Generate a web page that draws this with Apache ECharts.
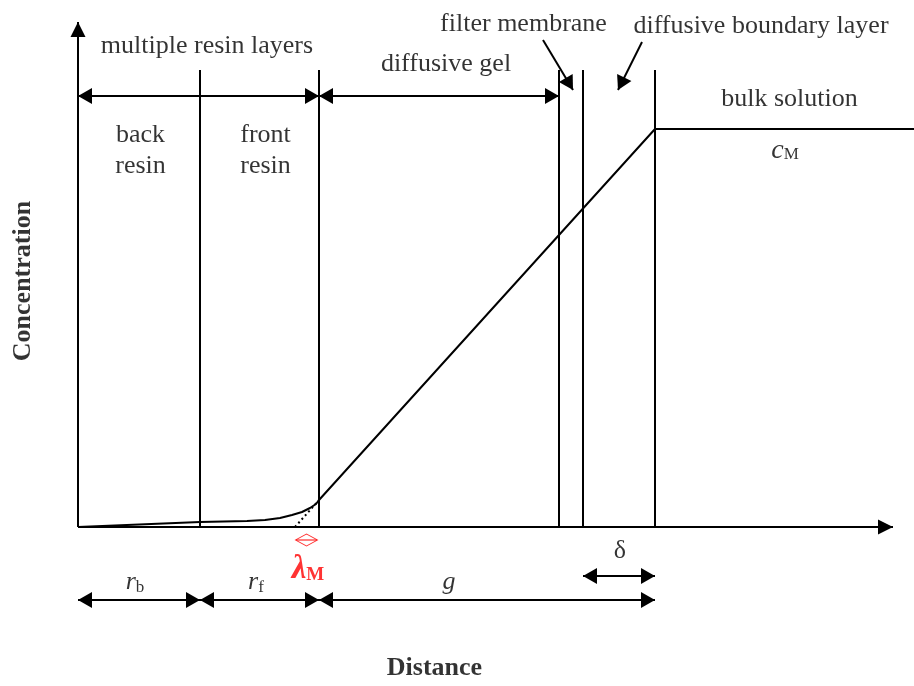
<!DOCTYPE html>
<html><head><meta charset="utf-8">
<script src="https://cdn.jsdelivr.net/npm/echarts@6/dist/echarts.min.js"></script>
<style>html,body{margin:0;padding:0;background:#fff}#c{width:914px;height:686px}</style>
</head><body><div id="c"></div>
<script>
// Drawing units: distance measured from the origin (x), concentration above the distance axis (y)
const xExtent = [-78, 836];
const yExtent = [-159, 527];
const axisEnds = [815, 505];                       // distance axis end, concentration axis end
const boundaries = [122, 241, 481, 505, 577];      // back|front, resin|gel, gel|membrane, membrane|DBL, DBL|bulk
const layerTop = 457;
const profileDistance = [0, 122, 169, 187, 202, 214, 224, 232, 238, 241, 577, 836];
const profileConc     = [0, 5, 6, 7, 9, 12, 15, 19, 23, 27, 398, 398];
const tangentDistance = [217, 241];
const tangentConc     = [0, 27];
const lambdaRange = [218, 239];
const lambdaLevel = -13;
const topArrowLevel = 431;
const bottomArrowLevel = -73;
const deltaArrowLevel = -49;
const pointerArrows = [[465, 487, 495, 437], [564, 485, 540, 437]];  // filter membrane, DBL pointers

const FONT = 'Liberation Serif';
const ARROW = 'path://M0,-20L0,-20M0,0L8,20L-8,20Z';
const HEAD = [16, 28];
const AXHEAD = [15, 30];

function seg(x1, y1, x2, y2, s1, s2, size) {
  return [
    { coord: [x1, y1], symbol: s1 ? ARROW : 'none', symbolSize: size || HEAD },
    { coord: [x2, y2], symbol: s2 ? ARROW : 'none', symbolSize: size || HEAD }
  ];
}

const lines = [];
lines.push(seg(0, 0, axisEnds[0], 0, false, true, AXHEAD));
lines.push(seg(0, 0, 0, axisEnds[1], false, true, AXHEAD));
boundaries.forEach(b => lines.push(seg(b, 0, b, layerTop, false, false)));
lines.push(seg(0, topArrowLevel, boundaries[1], topArrowLevel, true, true));
lines.push(seg(boundaries[1], topArrowLevel, boundaries[2], topArrowLevel, true, true));
pointerArrows.forEach(p => lines.push(seg(p[0], p[1], p[2], p[3], false, true)));
lines.push(seg(0, bottomArrowLevel, boundaries[0], bottomArrowLevel, true, true));
lines.push(seg(boundaries[0], bottomArrowLevel, boundaries[1], bottomArrowLevel, true, true));
lines.push(seg(boundaries[1], bottomArrowLevel, boundaries[4], bottomArrowLevel, true, true));
lines.push(seg(boundaries[3], deltaArrowLevel, boundaries[4], deltaArrowLevel, true, true));

const rich = {
  t: { fontFamily: FONT, fontSize: 26, color: '#000' },
  i: { fontFamily: FONT, fontSize: 26, fontStyle: 'italic', color: '#000' },
  ic: { fontFamily: FONT, fontSize: 28, fontStyle: 'italic', color: '#000' },
  s: { fontFamily: FONT, fontSize: 17, color: '#000', padding: [12, 0, 0, 0] },
  sc: { fontFamily: FONT, fontSize: 17, color: '#000', padding: [8, 0, 0, 0] },
  b: { fontFamily: FONT, fontSize: 26, fontWeight: 'bold', color: '#000' },
  l: { fontFamily: FONT, fontSize: 33, fontWeight: 'bold', fontStyle: 'italic', color: '#ff0000' },
  lm: { fontFamily: FONT, fontSize: 19, fontWeight: 'bold', color: '#ff0000', padding: [13, 0, 0, 0] }
};

const labels = [
  ['{t|multiple resin layers}', 129, 481, 0],
  ['{t|back}\n{t|resin}', 62.5, 376.5, 0],
  ['{t|front}\n{t|resin}', 187.5, 376.5, 0],
  ['{t|diffusive gel}', 368, 463, 0],
  ['{t|filter membrane}', 445.5, 503, 0],
  ['{t|diffusive boundary layer}', 683, 501, 0],
  ['{t|bulk solution}', 711.5, 428, 0],
  ['{ic|c}{sc|M}', 707, 376, 0],
  ['{i|r}{s|b}', 57, -55, 0],
  ['{i|r}{s|f}', 178, -55, 0],
  ['{i|g}', 371, -55, 0],
  ['{t|δ}', 542, -24, 0],
  ['{l|λ}{lm|M}', 230, -42, 0],
  ['{b|Distance}', 356.5, -141, 0],
  ['{b|Concentration}', -55, 246, 90]
];

const chart = echarts.init(document.getElementById('c'), null, { renderer: 'canvas' });
chart.setOption({
  animation: false,
  backgroundColor: '#fff',
  grid: { left: 0, right: 0, top: 0, bottom: 0 },
  xAxis: { type: 'value', min: xExtent[0], max: xExtent[1], show: false },
  yAxis: { type: 'value', min: yExtent[0], max: yExtent[1], show: false },
  series: [
    {
      type: 'line', clip: false, silent: true, symbol: 'none', color: '#000',
      lineStyle: { color: '#000', width: 2 },
      data: profileDistance.map((d, k) => [d, profileConc[k]]),
      markLine: {
        silent: true, animation: false,
        label: { show: false },
        lineStyle: { color: '#000', width: 2, type: 'solid' },
        itemStyle: { color: '#000' },
        emphasis: { disabled: true },
        data: lines
      }
    },
    {
      type: 'line', clip: false, silent: true, symbol: 'none',
      lineStyle: { color: '#000', width: 2, type: [2, 3] },
      data: tangentDistance.map((d, k) => [d, tangentConc[k]])
    },
    {
      type: 'line', clip: false, silent: true, symbol: 'none',
      lineStyle: { color: '#ff0000', width: 1 },
      data: lambdaRange.map(d => [d, lambdaLevel])
    },
    {
      type: 'scatter', silent: true, symbol: 'diamond', symbolSize: [22, 12],
      itemStyle: { color: 'rgba(0,0,0,0)', borderColor: '#ff0000', borderWidth: 1 },
      data: [[(lambdaRange[0] + lambdaRange[1]) / 2, lambdaLevel]]
    },
    {
      type: 'scatter', silent: true, symbolSize: 0,
      itemStyle: { color: 'rgba(0,0,0,0)' },
      label: { show: true, position: 'inside', color: '#000', textBorderWidth: 0, rich: rich, lineHeight: 31, align: 'center', verticalAlign: 'middle' },
      data: labels.map(l => ({ value: [l[1], l[2]], label: { formatter: l[0], rotate: l[3] } }))
    }
  ]
});
</script></body></html>
